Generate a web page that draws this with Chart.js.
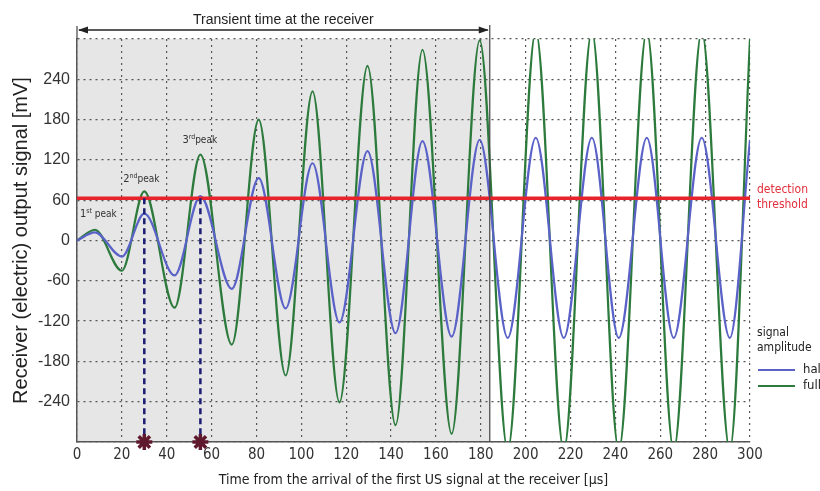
<!DOCTYPE html>
<html>
<head>
<meta charset="utf-8">
<script src="https://cdn.jsdelivr.net/npm/chart.js@4/dist/chart.umd.min.js"></script>
<style>
  html, body { margin: 0; padding: 0; background: #fff; }
  #wrap { width: 820px; height: 491px; }
</style>
</head>
<body>
<div id="wrap"><canvas id="myChart" width="820" height="491"></canvas></div>
<script>
// time of each extremum of the received signal [us]
var timeUs        = [0, 8, 20, 30, 43.5, 55, 69, 81, 93, 105, 117, 129.5, 142, 154, 167, 179.5, 192, 204.5, 217, 229.5, 241.5, 254, 266, 278.5, 291, 300];
// full amplitude (green) and half amplitude (blue) [mV]
var fullAmplitude = [0, 16, -45, 73, -100, 128, -155, 180, -201, 222, -241, 260, -275, 284, -288, 298, -312, 312, -312, 312, -312, 312, -312, 312, -312, 300];
var halfAmplitude = [0, 12, -24, 40, -52, 66, -72, 93, -101, 115, -122, 133, -138, 148, -143, 150, -145, 153, -145, 153, -145, 153, -145, 153, -145, 150];

var threshold = 63;          // detection threshold [mV]
var transientEnd = 184;      // end of transient time [us]
var detectTimes = [30, 55];  // peaks crossing the threshold
var peakTimes = [8, 30, 55];
var peakValues = [16, 73, 128];
var peakNames = ['1', '2', '3'];
var peakSup = ['st', 'nd', 'rd'];

var xTickValues = [0, 20, 40, 60, 80, 100, 120, 140, 160, 180, 200, 220, 240, 260, 280, 300];
var yTickValues = [-300, -240, -180, -120, -60, 0, 60, 120, 180, 240, 300];

var NARROW = "'Liberation Sans Narrow', 'DejaVu Sans Condensed', 'Liberation Sans', Arial, sans-serif";
var SANS = "'Liberation Sans', Arial, sans-serif";

function pts(xs, ys) {
  return xs.map(function (x, i) { return { x: x, y: ys[i] }; });
}

var dashed = [];
detectTimes.forEach(function (t) {
  dashed.push({
    data: [{ x: t, y: threshold }, { x: t, y: -300 }],
    borderColor: '#1c1c72',
    borderWidth: 2.5,
    borderDash: [6, 4],
    pointRadius: 0
  });
});

var overlay = {
  id: 'overlay',
  beforeDraw: function (chart) {
    var c = chart.ctx, a = chart.chartArea, xs = chart.scales.x;
    var xe = xs.getPixelForValue(transientEnd);
    c.save();
    c.fillStyle = '#e6e6e6';
    c.fillRect(a.left, a.top, xe - a.left, a.bottom - a.top);
    c.restore();
  },
  afterDraw: function (chart) {
    var c = chart.ctx, a = chart.chartArea, xs = chart.scales.x, ys = chart.scales.y;
    var xe = xs.getPixelForValue(transientEnd);
    c.save();
    // transient border + arrow
    c.strokeStyle = '#444';
    c.lineWidth = 1.2;
    c.beginPath();
    c.moveTo(xe, a.top - 14); c.lineTo(xe, a.bottom);
    c.moveTo(a.left, a.top - 13); c.lineTo(a.left, a.top);
    c.stroke();
    var ay = a.top - 9;
    c.strokeStyle = '#222';
    c.lineWidth = 1.5;
    c.beginPath();
    c.moveTo(a.left + 2, ay); c.lineTo(xe - 2, ay);
    c.stroke();
    c.fillStyle = '#222';
    c.beginPath();
    c.moveTo(a.left + 1, ay); c.lineTo(a.left + 11, ay - 3.5); c.lineTo(a.left + 11, ay + 3.5); c.closePath();
    c.moveTo(xe - 1, ay); c.lineTo(xe - 11, ay - 3.5); c.lineTo(xe - 11, ay + 3.5); c.closePath();
    c.fill();
    c.font = '14px ' + SANS;
    c.fillStyle = '#222';
    c.textAlign = 'center';
    c.textBaseline = 'middle';
    c.fillText('Transient time at the receiver', (a.left + xe) / 2, ay - 10);

    // peak labels
    var offs = [[-15, -13], [-21, -9], [-18, -12]];
    c.fillStyle = '#333';
    c.textAlign = 'left';
    c.textBaseline = 'alphabetic';
    peakTimes.forEach(function (t, i) {
      var px = xs.getPixelForValue(t) + offs[i][0];
      var py = ys.getPixelForValue(peakValues[i]) + offs[i][1];
      c.font = '11px ' + NARROW;
      c.fillText(peakNames[i], px, py);
      var w = c.measureText(peakNames[i]).width;
      c.font = '7px ' + NARROW;
      c.fillText(peakSup[i], px + w, py - 4);
      var w2 = c.measureText(peakSup[i]).width;
      c.font = '10px ' + NARROW;
      c.fillText(i === 0 ? ' peak' : 'peak', px + w + w2, py);
    });

    // detection threshold text
    c.fillStyle = '#e2303c';
    c.font = '12px ' + NARROW;
    c.textBaseline = 'middle';
    var ty = ys.getPixelForValue(threshold);
    c.fillText('detection', a.right + 7, ty - 8);
    c.fillText('threshold', a.right + 7, ty + 7);

    // legend
    c.fillStyle = '#222';
    c.fillText('signal', a.right + 7, 333);
    c.fillText('amplitude', a.right + 7, 348);
    c.lineWidth = 1.8;
    c.strokeStyle = '#5a62c8';
    c.beginPath(); c.moveTo(a.right + 8, 370); c.lineTo(a.right + 45, 370); c.stroke();
    c.strokeStyle = '#2c7a3c';
    c.beginPath(); c.moveTo(a.right + 8, 386); c.lineTo(a.right + 45, 386); c.stroke();
    c.font = '13px ' + NARROW;
    c.fillText('half', a.right + 53, 370);
    c.fillText('full', a.right + 53, 386);
    c.restore();
  }
};

var ctx = document.getElementById('myChart');
var myChart = new Chart(ctx, {
  type: 'line',
  data: {
    datasets: [
      {
        type: 'scatter',
        data: detectTimes.map(function (t) { return { x: t, y: -300 }; }),
        pointStyle: 'star',
        pointRadius: 8,
        pointBorderWidth: 3.5,
        pointBorderColor: '#5e1a2c',
        pointBackgroundColor: '#5e1a2c',
        clip: false
      },
      dashed[0],
      dashed[1],
      {
        data: [{ x: 0, y: threshold }, { x: 300, y: threshold }],
        borderColor: '#e8232c',
        borderWidth: 3.5,
        pointRadius: 0
      },
      {
        data: pts(timeUs, halfAmplitude),
        borderColor: '#5a62c8',
        borderWidth: 2.2,
        pointRadius: 0,
        cubicInterpolationMode: 'monotone'
      },
      {
        data: pts(timeUs, fullAmplitude),
        borderColor: '#2c7a3c',
        borderWidth: 2.2,
        pointRadius: 0,
        cubicInterpolationMode: 'monotone'
      }
    ]
  },
  options: {
    responsive: false,
    animation: false,
    layout: { padding: { left: 0, top: 39, right: 70, bottom: 0 } },
    plugins: {
      legend: { display: false },
      tooltip: { enabled: false }
    },
    scales: {
      x: {
        type: 'linear',
        min: 0, max: 300,
        afterBuildTicks: function (s) { s.ticks = xTickValues.map(function (v) { return { value: v }; }); },
        afterFit: function (s) { s.height = 49; },
        ticks: {
          autoSkip: false, maxRotation: 0, padding: 4,
          color: '#333',
          font: { family: NARROW, size: 15 }
        },
        grid: {
          drawTicks: false,
          color: '#555',
          lineWidth: 1.2
        },
        border: { display: true, color: '#555', width: 1.5, dash: [2, 4] },
        title: {
          display: true,
          text: 'Time from the arrival of the first US signal at the receiver [µs]',
          color: '#222',
          font: { family: NARROW, size: 14 },
          padding: { top: 0, bottom: 2 }
        }
      },
      y: {
        min: -300, max: 300,
        afterBuildTicks: function (s) { s.ticks = yTickValues.map(function (v) { return { value: v }; }); },
        afterFit: function (s) { s.width = 77; },
        ticks: {
          padding: 7,
          color: '#333',
          font: { family: SANS, size: 16 },
          callback: function (v) { return Math.abs(v) === 300 ? '' : v; }
        },
        grid: {
          drawTicks: false,
          color: '#555',
          lineWidth: 1.2
        },
        border: { display: true, color: '#555', width: 1.5, dash: [2, 4] },
        title: {
          display: true,
          text: 'Receiver (electric) output signal [mV]',
          color: '#222',
          font: { family: SANS, size: 20 },
          padding: { top: 9, bottom: 0 }
        }
      }
    }
  },
  plugins: [overlay]
});
</script>
</body>
</html>
